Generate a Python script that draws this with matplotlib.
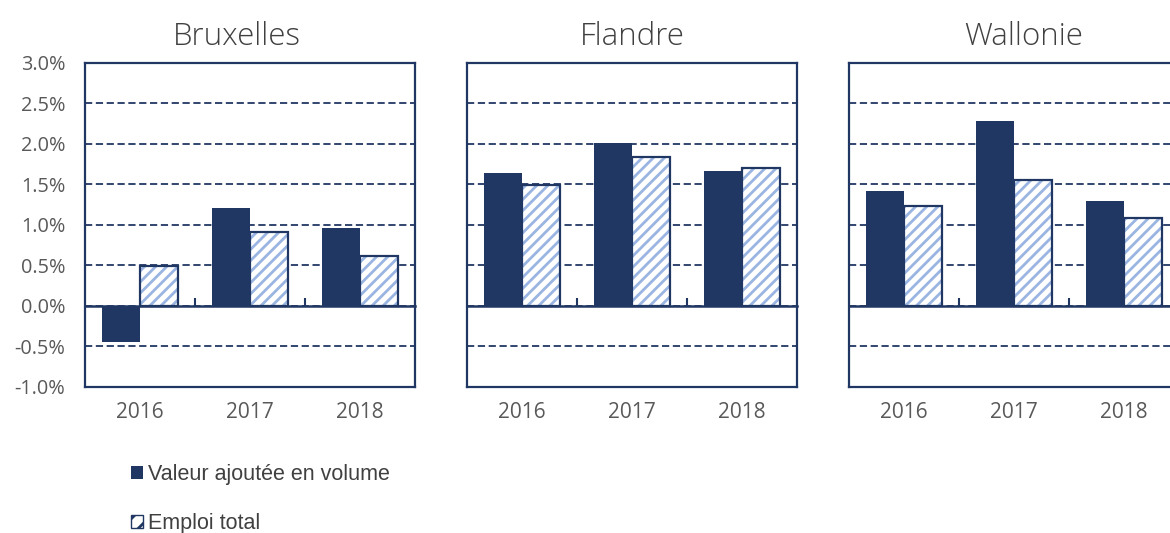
import matplotlib.pyplot as plt
import numpy as np

# Regional growth rates (%)
years = ["2016", "2017", "2018"]
regions = ["Bruxelles", "Flandre", "Wallonie"]
valeur_ajoutee = {
    "Bruxelles": [-0.45, 1.21, 0.96],
    "Flandre": [1.64, 2.01, 1.66],
    "Wallonie": [1.42, 2.28, 1.30],
}
emploi = {
    "Bruxelles": [0.49, 0.91, 0.62],
    "Flandre": [1.49, 1.84, 1.70],
    "Wallonie": [1.23, 1.55, 1.09],
}
y_ticks = [-1.0, -0.5, 0.0, 0.5, 1.0, 1.5, 2.0, 2.5, 3.0]

navy = "#213763"
light = "#9ab5e2"
grey = "#595959"

plt.rcParams["hatch.linewidth"] = 2.0
plt.rcParams["font.family"] = ["Open Sans", "DejaVu Sans"]

fig = plt.figure(figsize=(11.7, 5.33), dpi=100)
lefts = [0.0726, 0.399, 0.7256]
title_x = [0.462, 0.503, 0.53]
x = np.arange(len(years))
w = 0.345

for i, (reg, left) in enumerate(zip(regions, lefts)):
    ax = fig.add_axes([left, 0.274, 0.282, 0.608])
    ax.bar(x - w / 2, valeur_ajoutee[reg], w, color=navy, zorder=3)
    # hatched bars: stripes first, then the navy outline
    ax.bar(x + w / 2, emploi[reg], w, color="white", edgecolor=light,
           hatch="///", linewidth=0, zorder=3)
    ax.bar(x + w / 2, emploi[reg], w, fill=False, edgecolor=navy,
           linewidth=1.6, zorder=4)
    ax.set_xlim(-0.5, 2.5)
    ax.set_ylim(-1.0, 3.0)
    ax.set_yticks(y_ticks)
    ax.yaxis.grid(True, color=navy, linestyle=(0, (4, 2)), linewidth=1.3)
    ax.set_axisbelow(True)
    ax.set_xticks(x)
    ax.set_xticklabels(years, fontsize=15, color=grey)
    ax.tick_params(axis="x", length=0, pad=11)
    if i == 0:
        ax.set_yticklabels([f"{v:.1f}%" for v in y_ticks], fontsize=14.3, color=grey)
        ax.tick_params(axis="y", length=0, pad=14)
    else:
        ax.set_yticklabels([])
        ax.tick_params(axis="y", length=0)
    for s in ax.spines.values():
        s.set_color(navy)
        s.set_linewidth(1.6)
    ax.set_title(reg, fontsize=22.5, color="#404040", pad=13, x=title_x[i],
                 fontweight="light")

    # zero line with small category separators
    zero = ax.secondary_xaxis(0.25)
    zero.spines["bottom"].set_color(navy)
    zero.spines["bottom"].set_linewidth(1.8)
    zero.set_xticks([0.5, 1.5])
    zero.tick_params(axis="x", direction="in", length=6, width=1.5,
                     color=navy, labelbottom=False)

h1 = plt.Rectangle((0, 0), 1, 1, facecolor=navy)
h2 = plt.Rectangle((0, 0), 1, 1, facecolor="white", edgecolor=navy,
                   hatch="//", linewidth=1)
leg = fig.legend([h1, h2], ["Valeur ajoutée en volume", "Emploi total"],
                 loc="upper left", bbox_to_anchor=(0.105, 0.145),
                 frameon=False, handlelength=0.55, handleheight=0.55,
                 handletextpad=0.2, labelspacing=1.3, borderaxespad=0,
                 prop={"family": ["Liberation Sans"], "size": 15.5})
for t in leg.get_texts():
    t.set_color("#404040")

fig.savefig("out.png", dpi=100)
